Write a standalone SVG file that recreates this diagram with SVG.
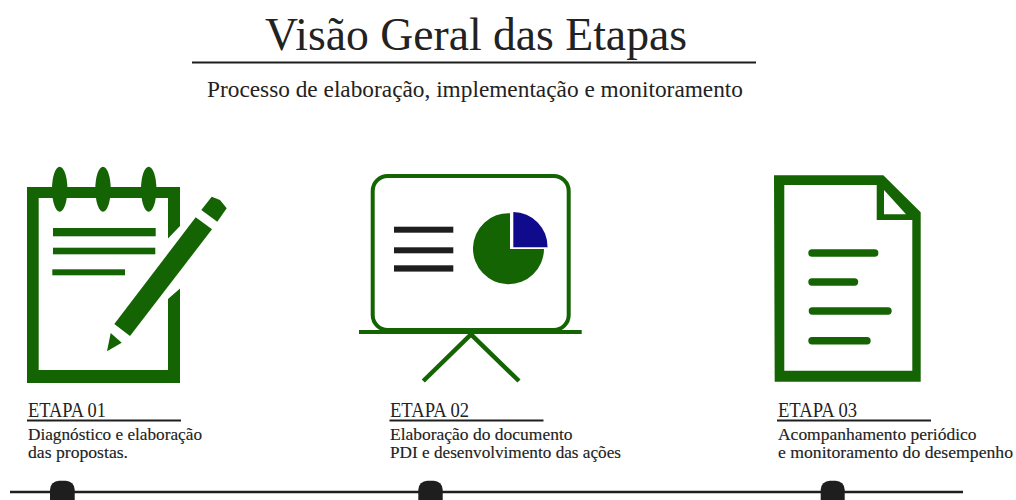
<svg xmlns="http://www.w3.org/2000/svg" width="1016" height="500" viewBox="0 0 1016 500">
<style>
text{font-family:"Liberation Serif","DejaVu Serif",serif;fill:#222}
.g{fill:#146404}
.gs{fill:none;stroke:#146404}
.k{fill:#1e1e1e}
.rule{stroke:#1e1e1e;stroke-width:2.200;fill:none}
.h{font-size:20px}
.d{font-size:17.500px;stroke:#222;stroke-width:.15}
.dl{stroke:#146404;stroke-width:7.400;stroke-linecap:round;fill:none}
</style>
<rect width="1016" height="500" fill="#fff"/>
<g id="header">
<text x="265" y="50" font-size="47" textLength="422" lengthAdjust="spacingAndGlyphs">Visão Geral das Etapas</text>
<line class="rule" x1="192" y1="62.500" x2="756" y2="62.500"/>
<text x="207" y="97" font-size="23.500" textLength="536" lengthAdjust="spacingAndGlyphs">Processo de elaboração, implementação e monitoramento</text>
</g>
<g id="connectors">
<line x1="10" y1="492" x2="963" y2="492" stroke="#1e1e1e" stroke-width="2.400"/>
</g>
<g id="marker-1"><rect class="k" x="50" y="480.700" width="24.700" height="28" rx="9"/></g>
<g id="marker-2"><rect class="k" x="418.300" y="480.700" width="24.400" height="28" rx="9"/></g>
<g id="marker-3"><rect class="k" x="820.700" y="480.700" width="24" height="28" rx="9"/></g>
<g id="etapa-1">
<path class="g" fill-rule="evenodd" d="M27 187H180V226L168 238.500V198H38.700V370H168V299L180 288.500V383H27Z"/>
<ellipse class="g" cx="59.700" cy="189.200" rx="7.700" ry="22.500"/>
<ellipse class="g" cx="103" cy="189.200" rx="7.700" ry="22.500"/>
<ellipse class="g" cx="148.700" cy="189.200" rx="7.700" ry="22.500"/>
<rect class="g" x="53" y="228" width="102.700" height="8.300"/>
<rect class="g" x="53" y="247.700" width="102.300" height="6.600"/>
<rect class="g" x="52.300" y="269.300" width="72.700" height="6"/>
<path class="g" d="M195.700 217.300L212 229.300L130 336L114.300 324Z"/>
<path class="g" d="M211.700 196.700L220 200L226.700 208.300L217.300 221.700L201.300 210Z"/>
<path class="g" d="M110.700 333L121.700 342.700L107 351.300Z"/>
<text class="h" x="28" y="416.700" textLength="78" lengthAdjust="spacingAndGlyphs">ETAPA 01</text>
<line class="rule" x1="27" y1="420.500" x2="181" y2="420.500"/>
<text class="d" x="28" y="439.500" textLength="174" lengthAdjust="spacingAndGlyphs">Diagnóstico e elaboração</text>
<text class="d" x="28" y="458" textLength="100" lengthAdjust="spacingAndGlyphs">das propostas.</text>
</g>
<g id="etapa-2">
<rect class="gs" x="372.700" y="176" width="196" height="154" rx="15" stroke-width="4"/>
<line class="gs" x1="359" y1="332" x2="581.700" y2="332" stroke-width="4"/>
<path class="gs" d="M423.300 381L471 334.500L519 381" stroke-width="4.500"/>
<rect class="k" x="394" y="226.700" width="59.300" height="6"/>
<rect class="k" x="394" y="247.300" width="59.300" height="6"/>
<rect class="k" x="394" y="265.300" width="59.300" height="6.300"/>
<path class="g" d="M510 213.200A35.500 35.500 0 1 0 544 249H510Z"/>
<path d="M513.300 212A34.500 35 0 0 1 547.600 247.300H513.300Z" fill="#100a8c"/>
<text class="h" x="390" y="416.700" textLength="79" lengthAdjust="spacingAndGlyphs">ETAPA 02</text>
<line class="rule" x1="389.500" y1="420.500" x2="543.500" y2="420.500"/>
<text class="d" x="390" y="439.500" textLength="182.500" lengthAdjust="spacingAndGlyphs">Elaboração do documento</text>
<text class="d" x="390" y="458" textLength="231" lengthAdjust="spacingAndGlyphs">PDI e desenvolvimento das ações</text>
</g>
<g id="etapa-3">
<path class="g" fill-rule="evenodd" d="M774 175.300H883.300L920.700 212.300V381.700H774.700ZM784.300 185V370.700H912.300V220H876.700V185ZM884 190V214.300H906Z"/>
<line class="dl" x1="812" y1="253" x2="874.700" y2="253"/>
<line class="dl" x1="812" y1="282" x2="854.500" y2="282"/>
<line class="dl" x1="812.400" y1="311" x2="888" y2="311"/>
<line class="dl" x1="812" y1="340.700" x2="867" y2="340.700"/>
<text class="h" x="778" y="416.700" textLength="79" lengthAdjust="spacingAndGlyphs">ETAPA 03</text>
<line class="rule" x1="777" y1="420.500" x2="931" y2="420.500"/>
<text class="d" x="778" y="439.500" textLength="198.500" lengthAdjust="spacingAndGlyphs">Acompanhamento periódico</text>
<text class="d" x="778" y="458" textLength="235" lengthAdjust="spacingAndGlyphs">e monitoramento do desempenho</text>
</g>
</svg>
